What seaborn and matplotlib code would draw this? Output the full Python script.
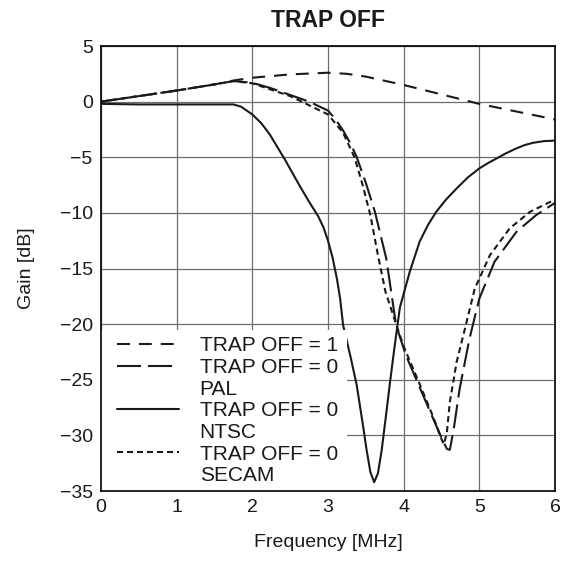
import numpy as np
import pandas as pd
import matplotlib
matplotlib.use('Agg')
import matplotlib.pyplot as plt
import seaborn as sns
from matplotlib.lines import Line2D
from matplotlib.patches import Rectangle

# ============================================
# DATA
# ============================================

freq_off1 = [0, 0.5, 1.0, 1.5, 1.75, 2.0, 2.5, 3.0, 3.25, 3.5, 4.0, 4.5, 5.0, 5.5, 6.0]
gain_off1 = [0, 0.5, 1.0, 1.55, 1.9, 2.15, 2.45, 2.6, 2.5, 2.25, 1.5, 0.65, -0.2, -0.9, -1.6]

freq_pal = [0, 0.5, 1.0, 1.5, 1.75, 2.0, 2.25, 2.5, 2.75, 3.0, 3.1, 3.2, 3.3, 3.38,
            3.5, 3.62, 3.77, 3.9, 4.03, 4.2, 4.39, 4.5, 4.57, 4.61, 4.66, 4.74, 4.87,
            5.0, 5.2, 5.49, 5.75, 6.0]
gain_pal = [0, 0.5, 1.0, 1.55, 1.85, 1.7, 1.2, 0.6, 0.0, -0.8, -1.6, -2.6, -3.8, -5.0,
            -7.3, -9.9, -14.1, -20.1, -22.8, -25.5, -28.5, -30.2, -31.2, -31.3, -29.5,
            -25.8, -21.3, -17.7, -14.4, -11.7, -10.2, -9.1]

freq_ntsc = [0, 0.5, 1.0, 1.5, 1.75, 1.85, 2.0, 2.12, 2.23, 2.43, 2.62, 2.75, 2.87,
             2.94, 3.0, 3.06, 3.12, 3.16, 3.2, 3.3, 3.38, 3.46, 3.51, 3.56, 3.61, 3.66,
             3.71, 3.77, 3.82, 3.88, 3.95, 4.08, 4.21, 4.32, 4.43, 4.56, 4.7, 4.85,
             5.0, 5.12, 5.23, 5.35, 5.49, 5.6, 5.71, 5.85, 6.0]
gain_ntsc = [-0.2, -0.25, -0.25, -0.25, -0.25, -0.45, -1.15, -1.95, -2.95, -5.2, -7.5,
             -9.0, -10.3, -11.3, -12.5, -14.0, -16.0, -17.7, -20.1, -23.0, -25.5, -29.0,
             -31.3, -33.3, -34.2, -33.4, -31.3, -28.0, -25.2, -22.0, -18.5, -15.3, -12.6,
             -11.1, -9.9, -8.8, -7.8, -6.8, -6.0, -5.5, -5.1, -4.65, -4.2, -3.9, -3.7,
             -3.55, -3.5]

freq_secam = [0, 0.5, 1.0, 1.5, 1.75, 2.0, 2.5, 3.0, 3.2, 3.35, 3.45, 3.56, 3.66, 3.76,
              3.9, 4.0, 4.2, 4.4, 4.48, 4.53, 4.57, 4.61, 4.7, 4.81, 4.94, 5.14, 5.4,
              5.67, 6.0]
gain_secam = [0, 0.5, 1.0, 1.55, 1.85, 1.65, 0.5, -1.15, -2.8, -5.0, -7.3, -10.2, -13.8,
              -17.1, -20.0, -22.0, -25.2, -28.5, -30.0, -30.8, -29.8, -27.0, -23.4, -20.4,
              -16.8, -13.8, -11.4, -9.9, -8.8]

legend_labels = ['TRAP OFF = 1', 'TRAP OFF = 0', 'PAL', 'TRAP OFF = 0', 'NTSC',
                 'TRAP OFF = 0', 'SECAM']
xticks = [0, 1, 2, 3, 4, 5, 6]
yticks = [5, 0, -5, -10, -15, -20, -25, -30, -35]

# ============================================
# STYLE
# ============================================

sns.set_theme(style="white")
plt.rcParams['font.family'] = ['Liberation Sans', 'DejaVu Sans']
plt.rcParams['axes.unicode_minus'] = True

ink = '#1a1a1a'
grid_col = '#6e6e6e'

fig = plt.figure(figsize=(5.75, 5.71), dpi=100)
ax = fig.add_axes([0.1757, 0.140, 0.7895, 0.7794])

# ============================================
# CURVES
# ============================================

sns.lineplot(x=freq_off1, y=gain_off1, ax=ax, color=ink, lw=1.5,
             linestyle=(0, (6.2, 4.3)), zorder=2)
sns.lineplot(x=freq_pal, y=gain_pal, ax=ax, color=ink, lw=1.5,
             linestyle=(0, (11.5, 3.4)), zorder=2)
sns.lineplot(x=freq_ntsc, y=gain_ntsc, ax=ax, color=ink, lw=1.5,
             linestyle='-', zorder=2)
sns.lineplot(x=freq_secam, y=gain_secam, ax=ax, color=ink, lw=1.5,
             linestyle=(0, (2.9, 1.9)), zorder=2)

# grid drawn by hand so ticks can sit above the legend box
for x in xticks:
    ax.axvline(x, color=grid_col, lw=0.9, zorder=1)
for y in yticks:
    ax.axhline(y, color=grid_col, lw=0.9, zorder=1)

ax.set_xlim(0, 6)
ax.set_ylim(-35, 5)
ax.set_xticks(xticks)
ax.set_yticks(yticks)
ax.tick_params(direction='in', length=5, width=0.9, color='#777777',
               labelsize=14, labelcolor=ink, pad=6)
ax.xaxis.set_zorder(6)
ax.yaxis.set_zorder(6)
for s in ax.spines.values():
    s.set_color('black')
    s.set_linewidth(1.2)
    s.set_zorder(6)

ax.set_xlabel('Frequency [MHz]', fontsize=14, color=ink, labelpad=13)
ax.set_ylabel('Gain [dB]', fontsize=14, color=ink, labelpad=18)
ax.set_title('TRAP OFF', fontsize=16.5, fontweight='bold', color=ink, pad=14)

# white box behind the legend, flush with the axes corner
ax.add_patch(Rectangle((0, 0), 0.542, 0.362, transform=ax.transAxes,
                       facecolor='white', edgecolor='none', zorder=4))

# legend: extra blank handles for the second text line
lines = ax.get_lines()
blank = Line2D([], [], color='none')
handles = [lines[0], lines[1], blank, lines[2], blank, lines[3], blank]
leg = ax.legend(handles, legend_labels, loc='upper left',
                bbox_to_anchor=(0.022, 0.362), fontsize=15, frameon=False,
                handlelength=2.95, handletextpad=1.0, labelspacing=0.13,
                borderpad=0.3, borderaxespad=0)
leg.set_zorder(5)
for t in leg.get_texts():
    t.set_color(ink)

plt.savefig('out.png', dpi=100)
